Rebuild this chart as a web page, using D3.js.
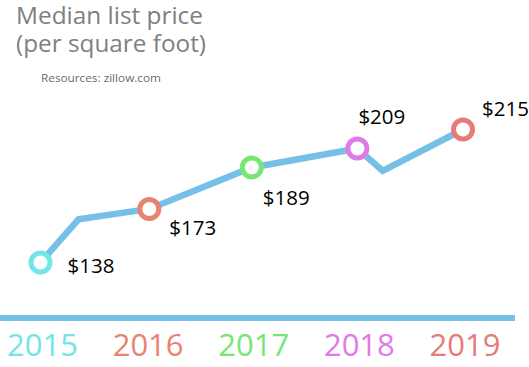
<!DOCTYPE html>
<html>
<head>
<meta charset="utf-8">
<script src="https://cdn.jsdelivr.net/npm/d3@7/dist/d3.min.js"></script>
<style>
html,body{margin:0;padding:0;background:#fff;}
svg{display:block;}
</style>
</head>
<body>
<svg id="chart" width="529" height="367"></svg>
<script>
// ---- data ----
const years = [2015, 2016, 2017, 2018, 2019];
const priceLabels = ["$138", "$173", "$189", "$209", "$215"];
const yearColors = ["#72e6e6", "#e8836f", "#77e677", "#de7be6", "#e87a7a"];
// line vertices (year position, level in price units as drawn)
const lineX = [2015, 2015.36, 2016.03, 2017, 2018, 2018.24, 2019];
const lineY = [138, 163, 169, 193, 204, 191, 215];
const markerIdx = [0, 2, 3, 4, 6];
const titleLines = ["Median list price", "(per square foot)"];
const sourceText = "Resources: zillow.com";

// ---- layout ----
const svg = d3.select("#chart");
const x = d3.scaleLinear().domain([2015, 2019]).range([40.5, 463]);
const y = d3.scaleLinear().domain([138, 215]).range([262.5, 129.5]);

// title
svg.selectAll("text.title").data(titleLines).join("text")
  .attr("class", "title")
  .attr("x", 16)
  .attr("y", (d, i) => 24 + i * 28)
  .attr("font-family", "'Open Sans', sans-serif")
  .attr("font-size", 24)
  .attr("fill", "#7f7f7f")
  .attr("textLength", (d, i) => i === 0 ? 187 : 190)
  .attr("lengthAdjust", "spacingAndGlyphs")
  .text(d => d);

svg.append("text")
  .attr("x", 41).attr("y", 82)
  .attr("font-family", "'Open Sans', sans-serif")
  .attr("font-size", 11.5)
  .attr("fill", "#6a6a6a")
  .attr("textLength", 120)
  .attr("lengthAdjust", "spacingAndGlyphs")
  .text(sourceText);

// axis line
const axisG = svg.append("g").attr("transform", "translate(0,318)");
const axis = d3.axisBottom(x).tickValues(years).tickFormat(d3.format("d")).tickSize(0).tickPadding(16);
axisG.call(axis);
axisG.select(".domain").remove();
axisG.append("line")
  .attr("x1", 0).attr("x2", 515).attr("y1", 0).attr("y2", 0)
  .attr("stroke", "#76c0e8").attr("stroke-width", 6);
axisG.selectAll(".tick text")
  .attr("font-family", "'Open Sans', sans-serif")
  .attr("font-size", 31)
  .attr("dy", "0.71em")
  .attr("dx", 1.5)
  .attr("fill", (d, i) => yearColors[i]);

// line
const pts = lineX.map((d, i) => [d, lineY[i]]);
svg.append("path")
  .datum(pts)
  .attr("fill", "none")
  .attr("stroke", "#76c0e8")
  .attr("stroke-width", 6.5)
  .attr("stroke-linejoin", "miter")
  .attr("d", d3.line().x(d => x(d[0])).y(d => y(d[1])));

// markers
const markers = markerIdx.map((k, i) => ({x: lineX[k], y: lineY[k], c: yearColors[i], label: priceLabels[i], i}));
svg.selectAll("circle.m").data(markers).join("circle")
  .attr("class", "m")
  .attr("cx", d => x(d.x)).attr("cy", d => y(d.y))
  .attr("r", 9.5)
  .attr("fill", "#fff")
  .attr("stroke", d => d.c)
  .attr("stroke-width", 5);

// price labels (offsets relative to markers)
const labelDX = [27, 20, 11, 1, 19];
const labelDY = [10, 26, 37, -25, -14];
svg.selectAll("text.pl").data(markers).join("text")
  .attr("class", "pl")
  .attr("x", d => x(d.x) + labelDX[d.i])
  .attr("y", d => y(d.y) + labelDY[d.i])
  .attr("font-family", "'Open Sans', sans-serif")
  .attr("font-size", 20.5)
  .attr("fill", "#000")
  .text(d => d.label);
</script>
</body>
</html>
